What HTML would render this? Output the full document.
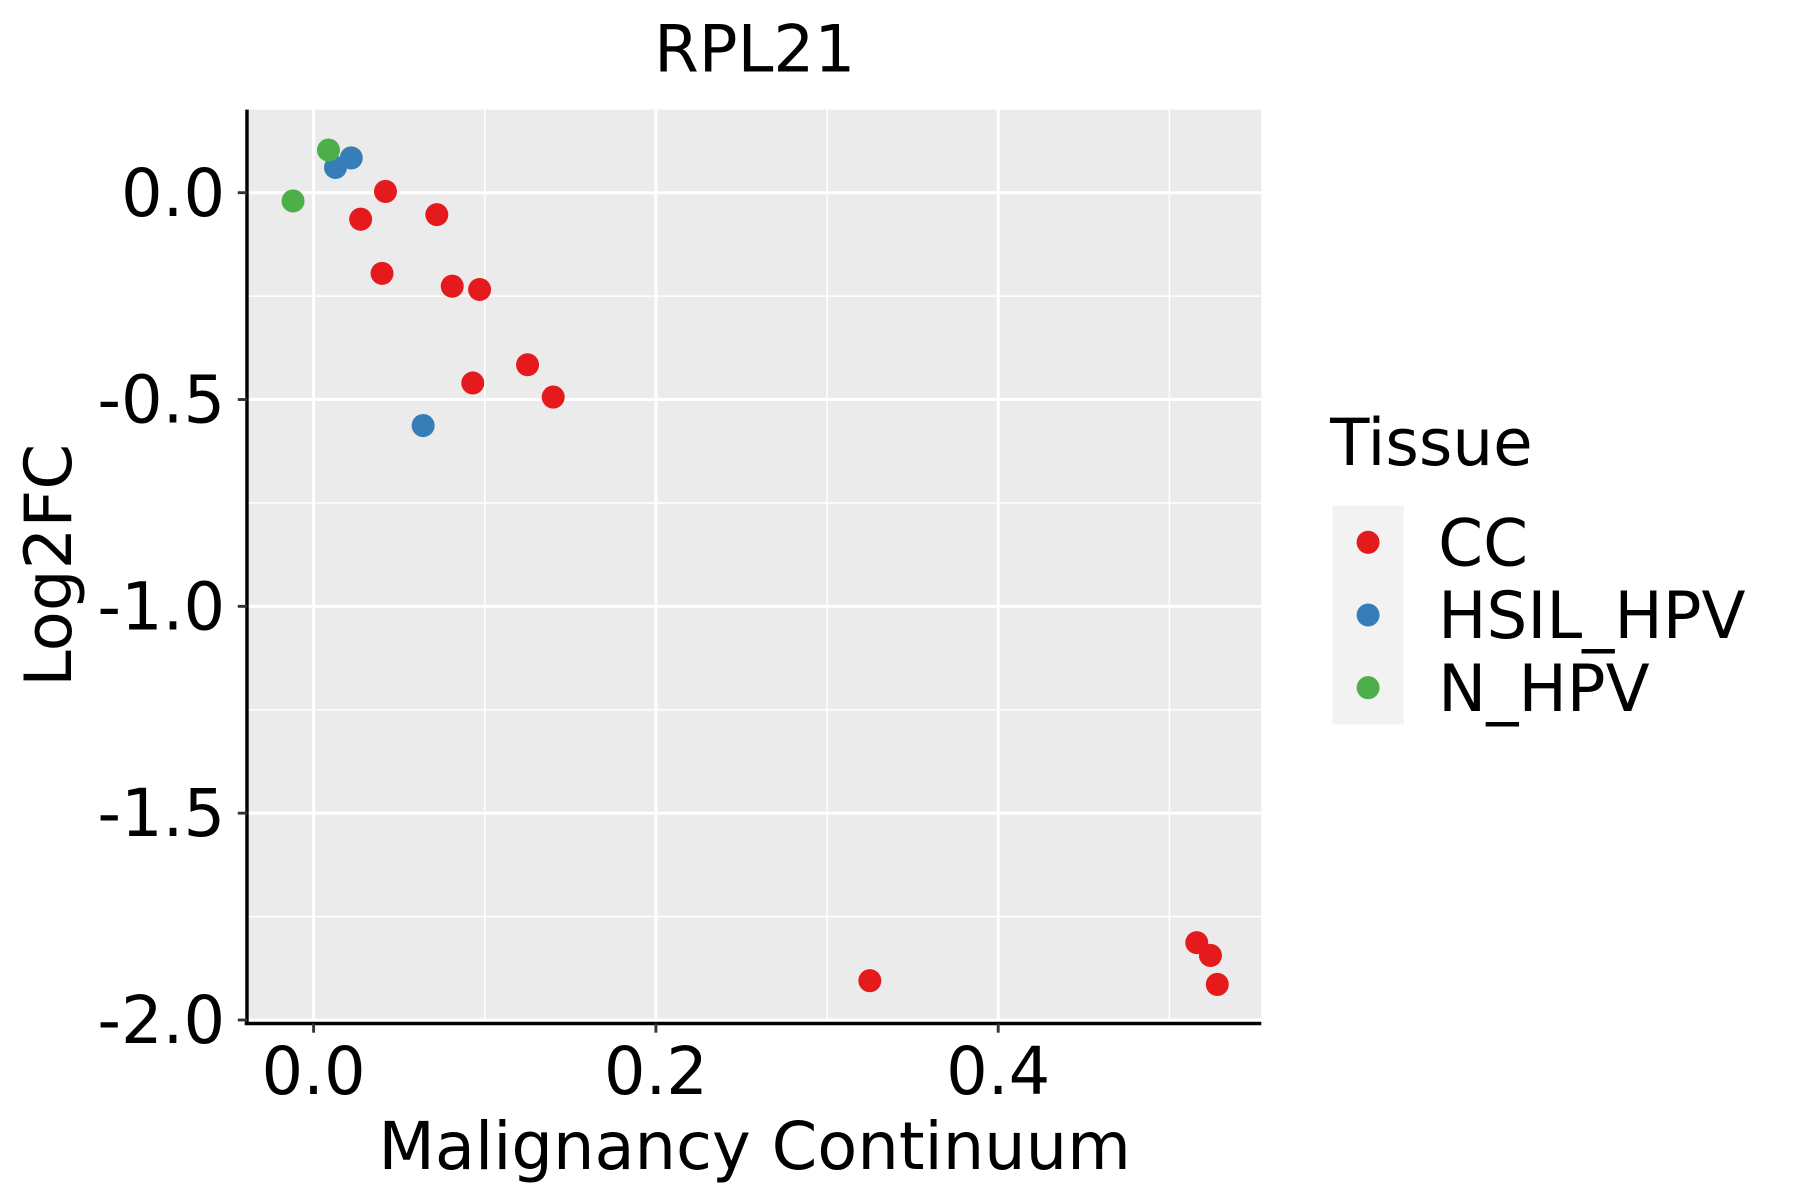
<!DOCTYPE html>
<html><head><meta charset="utf-8"><style>
html,body{margin:0;padding:0;background:#fff;}
svg{display:block;font-family:"DejaVu Sans","Liberation Sans",sans-serif;}
</style></head><body>
<svg id="chart" width="1800" height="1200" viewBox="0 0 1567 1040" preserveAspectRatio="none" xmlns="http://www.w3.org/2000/svg">
<text x="657" y="62" font-size="56" text-anchor="middle">RPL21</text>
<rect x="215" y="95" width="883" height="790" fill="#ebebeb"/>
<g id="grid"></g>
<g id="points"></g>
<line x1="215" y1="95" x2="215" y2="887" stroke="#000" stroke-width="3"/>
<line x1="213" y1="887" x2="1098" y2="887" stroke="#000" stroke-width="3"/>
<g id="ticks"></g>
<text x="657" y="1013" font-size="57" text-anchor="middle">Malignancy Continuum</text>
<text transform="translate(62,490) rotate(-90)" font-size="57" text-anchor="middle">Log2FC</text>
<text x="1158" y="403" font-size="56">Tissue</text>
<rect x="1160" y="438" width="62" height="190" fill="#f2f2f2"/>
<g><circle cx="1191" cy="470" r="10" fill="#e41a1c"/><text x="1252" y="490" font-size="56">CC</text></g>
<g><circle cx="1191" cy="533" r="10" fill="#377eb8"/><text x="1252" y="553" font-size="56">HSIL_HPV</text></g>
<g><circle cx="1191" cy="596" r="10" fill="#4daf4a"/><text x="1252" y="616" font-size="56">N_HPV</text></g>
</svg>
<script>
const xTicks=[0,0.2,0.4];
const xTickLabels=["0.0","0.2","0.4"];
const yTicks=[0,-0.5,-1,-1.5,-2];
const yTickLabels=["0.0","-0.5","-1.0","-1.5","-2.0"];
const ccX=[0.0275,0.042,0.072,0.040,0.081,0.097,0.125,0.093,0.140,0.325,0.516,0.524,0.528];
const ccY=[-0.064,0.003,-0.053,-0.195,-0.226,-0.234,-0.416,-0.460,-0.494,-1.905,-1.813,-1.844,-1.914];
const hsilX=[0.0128,0.022,0.064];
const hsilY=[0.061,0.084,-0.563];
const nX=[-0.012,0.0087];
const nY=[-0.020,0.103];
const NS="http://www.w3.org/2000/svg";
function sx(v){return 273+v*1490;}
function sy(v){return 167-v*358.5;}
function mk(tag,attrs,parent){const e=document.createElementNS(NS,tag);for(const k in attrs)e.setAttribute(k,attrs[k]);parent.appendChild(e);return e;}
const grid=document.getElementById('grid'),ticks=document.getElementById('ticks'),pts=document.getElementById('points');
for(let i=0;i<xTicks.length+1;i++){const v=-0.1+i*0.2;const x=sx(v);if(x>215&&x<1098){const l=mk('line',{x1:x,x2:x,y1:95,y2:885,stroke:'#fff','stroke-width':1.3},grid);}}
for(let i=0;i<yTicks.length-1;i++){const v=yTicks[i]-0.25;const y=sy(v);const l=mk('line',{x1:215,x2:1098,y1:y,y2:y,stroke:'#fff','stroke-width':1.3},grid);}
xTicks.forEach((v,i)=>{const x=sx(v);
const g=mk('line',{x1:x,x2:x,y1:95,y2:885,stroke:'#fff','stroke-width':2.6},grid);
const t=mk('line',{x1:x,x2:x,y1:887,y2:895,stroke:'#333','stroke-width':2.5},ticks);
const tx=mk('text',{x:x,y:948,'font-size':57,'text-anchor':'middle'},ticks);tx.textContent=xTickLabels[i];});
yTicks.forEach((v,i)=>{const y=sy(v);
const g=mk('line',{x1:215,x2:1098,y1:y,y2:y,stroke:'#fff','stroke-width':2.6},grid);
const t=mk('line',{x1:207,x2:215,y1:y,y2:y,stroke:'#333','stroke-width':2.5},ticks);
const tx=mk('text',{x:196,y:y+20,'font-size':57,'text-anchor':'end'},ticks);tx.textContent=yTickLabels[i];});
function series(xs,ys,color,name){xs.forEach((v,i)=>{const c=mk('circle',{cx:sx(v),cy:sy(ys[i]),r:10,fill:color},pts);});}
series(ccX,ccY,'#e41a1c','point-cc');
series(hsilX,hsilY,'#377eb8','point-hsil-hpv');
series(nX,nY,'#4daf4a','point-n-hpv');
</script>
</body></html>
